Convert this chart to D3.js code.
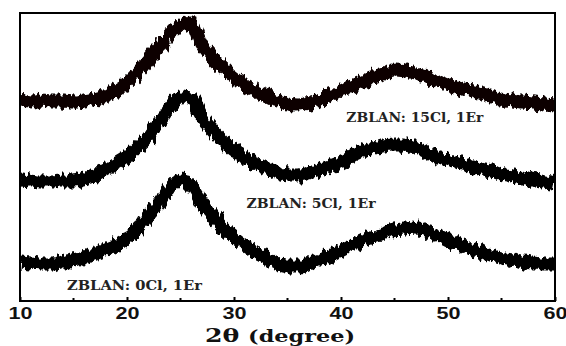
<!DOCTYPE html>
<html>
<head>
<meta charset="utf-8">
<script src="https://cdn.jsdelivr.net/npm/d3@7"></script>
<style>
  body { margin: 0; background: #fff; }
</style>
</head>
<body>
<script>
// 2theta (degree) sampled every degree
var angles = [10,11,12,13,14,15,16,17,18,19,20,21,22,23,24,25,26,27,28,29,30,
              31,32,33,34,35,36,37,38,39,40,41,42,43,44,45,46,47,48,49,50,
              51,52,53,54,55,56,57,58,59,60];

// intensity (a.u., offset stacked)
var cl15 = [200,199,201,200,200,199,200,202,205,211,218,229,241,254,268,275,278,256,243,233,224,
            216,210,205,200,197,196,198,201,206,211,215,219,224,227,231,230,228,224,220,216,
            213,211,208,205,202,200,199,198,197,196];
var cl5  = [121,120,119,119,120,120,122,125,131,137,144,154,164,178,194,204,203,184,171,160,150,
            143,137,133,129,126,126,128,131,135,139,145,150,153,155,156,156,153,148,144,141,
            138,135,132,130,127,125,123,121,119,117];
var cl0  = [39,38,37,37,39,41,43,47,51,56,63,72,85,98,113,121,115,98,85,73,64,
            56,49,43,38,35,35,37,41,45,50,55,60,64,68,71,72,73,70,66,61,
            57,53,49,46,43,41,39,38,37,37];

var seriesNames = ["ZBLAN: 15Cl, 1Er", "ZBLAN: 5Cl, 1Er", "ZBLAN: 0Cl, 1Er"];
var xTicks = [10, 20, 30, 40, 50, 60];
var xMinor = [15, 25, 35, 45, 55];

var width = 566, height = 346;
var mLeft = 20, mRight = 555, mTop = 13, mBottom = 301;

var svg = d3.select("body").append("svg")
    .attr("width", width)
    .attr("height", height);

var x = d3.scaleLinear().domain([10, 60]).range([mLeft, mRight]);
var y = d3.scaleLinear().domain([0, 288]).range([mBottom, mTop]);

var defs = svg.append("defs");
defs.append("clipPath").attr("id", "plot")
  .append("rect")
    .attr("x", mLeft).attr("y", mTop)
    .attr("width", mRight - mLeft).attr("height", mBottom - mTop);

// rough edges for the noisy scans
var f = defs.append("filter").attr("id", "rough")
    .attr("filterUnits", "userSpaceOnUse")
    .attr("x", 0).attr("y", 0).attr("width", width).attr("height", height);
f.append("feTurbulence")
    .attr("type", "fractalNoise")
    .attr("baseFrequency", "0.28 0.05")
    .attr("numOctaves", 2)
    .attr("seed", 4)
    .attr("result", "n");
f.append("feDisplacementMap")
    .attr("in", "SourceGraphic")
    .attr("in2", "n")
    .attr("scale", 11)
    .attr("xChannelSelector", "R")
    .attr("yChannelSelector", "G");

var series = [
  {name: seriesNames[0], values: cl15, color: "#0c0202", w: 13},
  {name: seriesNames[1], values: cl5,  color: "#030101", w: 13},
  {name: seriesNames[2], values: cl0,  color: "#000",    w: 13}
];

var line = d3.line()
    .x(function(d, i) { return x(angles[i]); })
    .y(function(d) { return y(d); })
    .curve(d3.curveMonotoneX);

var plot = svg.append("g").attr("clip-path", "url(#plot)")
  .append("g").attr("filter", "url(#rough)");

plot.selectAll("path.scan")
    .data(series)
    .enter().append("path")
    .attr("class", "scan")
    .attr("d", function(d) { return line(d.values); })
    .attr("fill", "none")
    .attr("stroke", function(d) { return d.color; })
    .attr("stroke-width", function(d) { return d.w; })
    .attr("stroke-linejoin", "round");

// frame
svg.append("rect")
    .attr("x", mLeft).attr("y", mTop)
    .attr("width", mRight - mLeft).attr("height", mBottom - mTop)
    .attr("fill", "none")
    .attr("stroke", "#000")
    .attr("stroke-width", 2);

// bottom axis, inward ticks
var xAxis = d3.axisBottom(x)
    .tickValues(xTicks)
    .tickSize(-4)
    .tickPadding(7)
    .tickFormat(d3.format("d"));

var gx = svg.append("g")
    .attr("transform", "translate(0," + mBottom + ")")
    .call(xAxis);
gx.attr("font-size", null).attr("font-family", null);
gx.select(".domain").remove();
gx.selectAll(".tick line").attr("stroke", "#000").attr("stroke-width", 2);
gx.selectAll(".tick text")
    .style("font-family", "'Liberation Sans', Arial, sans-serif")
    .style("font-weight", "bold")
    .style("font-size", "16px")
    .attr("textLength", 24)
    .attr("lengthAdjust", "spacingAndGlyphs")
    .attr("fill", "#111");

gx.selectAll(".minor")
    .data(xMinor)
    .enter().append("line")
    .attr("class", "minor")
    .attr("x1", function(d) { return x(d); })
    .attr("x2", function(d) { return x(d); })
    .attr("y1", 0).attr("y2", -3)
    .attr("stroke", "#000")
    .attr("stroke-width", 2);

// axis title
var title = svg.append("text")
    .attr("x", 280)
    .attr("y", 342)
    .attr("text-anchor", "middle")
    .attr("textLength", 150)
    .attr("lengthAdjust", "spacingAndGlyphs")
    .style("font-family", "'DejaVu Serif', serif")
    .style("font-weight", "bold")
    .style("font-size", "18px")
    .attr("fill", "#111");
title.append("tspan").text("2\u03b8 ");
title.append("tspan").style("font-size", "16px").text("(degree)");

// curve labels
var labelPos = [[46.9, 179], [37.2, 93], [20.7, 11]];
var labelLen = [137, 129, 135];
svg.selectAll("text.lab")
    .data(series)
    .enter().append("text")
    .attr("class", "lab")
    .attr("x", function(d, i) { return x(labelPos[i][0]); })
    .attr("y", function(d, i) { return y(labelPos[i][1]); })
    .attr("text-anchor", "middle")
    .attr("textLength", function(d, i) { return labelLen[i]; })
    .attr("lengthAdjust", "spacingAndGlyphs")
    .style("font-family", "'DejaVu Serif', serif")
    .style("font-weight", "bold")
    .style("font-size", "12.5px")
    .attr("fill", "#222")
    .text(function(d) { return d.name; });
</script>
</body>
</html>
